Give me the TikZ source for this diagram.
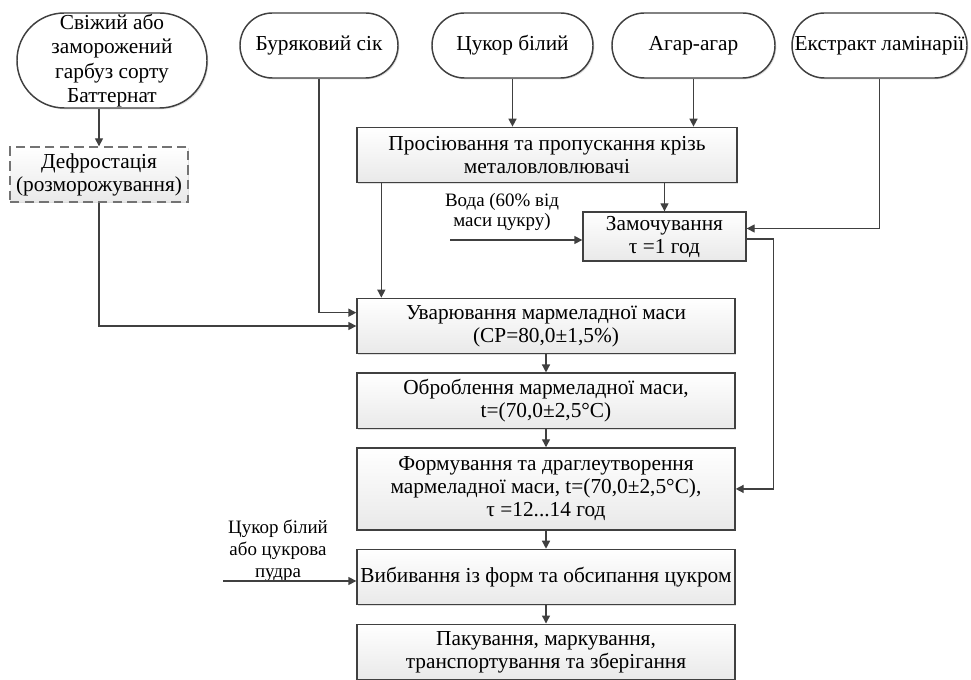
\documentclass[tikz,border=0pt]{standalone}
\usepackage{fontspec}
\setmainfont{Liberation Serif}
\newfontfamily\flowfont{Liberation Serif}
\usetikzlibrary{arrows.meta,positioning,shadows}
\definecolor{flowLine}{HTML}{404040}
\definecolor{flowFill}{HTML}{E9E9E9}

\begin{document}
\begin{tikzpicture}[x=0.75pt,y=-0.75pt,
    font=\flowfont\fontsize{16}{17.25}\selectfont,
    node distance=13.6pt,
    src/.style={draw=flowLine,line width=1.1pt,fill=white,
                rounded corners=24.3pt,inner sep=0pt,align=center,
                minimum height=48.75pt,
                drop shadow={shadow xshift=1pt,shadow yshift=-1pt,opacity=0.25}},
    stage/.style={draw=flowLine,line width=1pt,
                  top color=white,bottom color=flowFill,
                  align=center,inner xsep=1pt,inner ysep=2pt,
                  minimum width=283.5pt,minimum height=41.5pt,
                  drop shadow={shadow xshift=1pt,shadow yshift=-1pt,opacity=0.25}},
    link/.style={draw=flowLine,line width=1pt,
                 -{Triangle[length=6pt,width=6pt]}},
    note/.style={align=center,font=\flowfont\fontsize{14.2}{14.5}\selectfont}]
  \useasboundingbox (0,0) rectangle (971,680);
  % raw materials
  \node[src,minimum width=142.5pt,minimum height=71.25pt,
        rounded corners=35.5pt,font=\flowfont\fontsize{16}{18.4}\selectfont]
        (raw) at (112,60.5)
        {Свіжий або\\заморожений\\гарбуз сорту\\Баттернат};
  \node[src,minimum width=118.5pt] (beet) at (319,45.5) {Буряковий сік};
  \node[src,minimum width=120.75pt] (sugar) at (512.5,45.5) {Цукор білий};
  \node[src,minimum width=122.25pt] (agar) at (693.5,45.5) {Агар-агар};
  \node[src,minimum width=131.25pt] (kelp) at (879.5,45.5) {Екстракт ламінарії};
  % preparation
  \node[stage,minimum width=133.5pt,minimum height=41.25pt,
        draw=black!55,dash pattern=on 7pt off 4pt] (defr) at (99,174.5)
        {Дефростація\\(розморожування)};
  \node[stage,minimum width=285pt] (sift) at (547,155)
        {Просіювання та пропускання крізь\\металовловлювачі};
  \node[stage,minimum width=122.25pt,minimum height=36.75pt] (soak) at (664.5,236.5)
        {Замочування\\τ =1 год};
  % main line
  \node[stage] (uvar) at (546,326) {Уварювання мармеладної маси\\(СР=80,0±1,5\%)};
  \node[stage,below=of uvar] (obr) {Оброблення мармеладної маси,\\t=(70,0±2,5°C)};
  \node[stage,below=of obr,minimum height=61.5pt] (form)
        {Формування та драглеутворення\\мармеладної маси, t=(70,0±2,5°C),\\τ =12...14 год};
  \node[stage,below=of form] (vyb) {Вибивання із форм та обсипання цукром};
  \node[stage,below=of vyb] (pak) {Пакування, маркування,\\транспортування та зберігання};
  % side inputs
  \coordinate (water) at (450,240);
  \coordinate (powder) at (223,581);
  \node[note] (wl) at (502,212) {Вода (60\% від\\маси цукру)};
  \node[note,font=\flowfont\fontsize{14.2}{16.5}\selectfont] (pl) at (278,551)
        {Цукор білий\\або цукрова\\пудра};
  \coordinate (s1) at ([xshift=18.75pt]sift.south west);

  \draw[link] (defr.north |- raw.south) -- (defr.north);
  \draw[link] (defr.south) |- (uvar.west);
  \draw[link] (beet.south) |- ([yshift=10pt]uvar.west);
  \draw[link] (sugar.south) -- (sugar.south |- sift.north);
  \draw[link] (agar.south) -- (agar.south |- sift.north);
  \draw[link] (soak.north |- sift.south) -- (soak.north);
  \draw[link] (s1) -- (s1 |- uvar.north);
  \draw[link] (kelp.south) |- ([yshift=6pt]soak.east);
  \draw[link] ([yshift=-2pt]soak.east) -- ++(27,0) |- (form.east);
  \draw[link] (water) -- (water -| soak.west);
  \draw[link] (powder) -- (powder -| vyb.west);
  \foreach \a/\b in {uvar/obr,obr/form,form/vyb,vyb/pak}
    \draw[link] (\a.south) -- (\b.north);
\end{tikzpicture}
\end{document}
